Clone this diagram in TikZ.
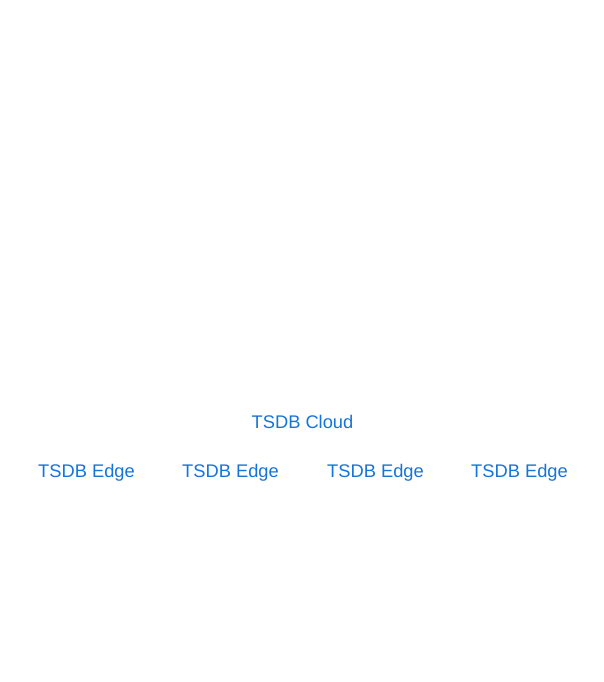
\documentclass[tikz,border=0pt]{standalone}
\usepackage{fontspec}
\setmainfont{Liberation Sans}
\usetikzlibrary{positioning}

\definecolor{tsdbblue}{HTML}{1674D8}

\tikzstyle{tsdb} = [text = tsdbblue, font = \fontsize{18.3}{21}\selectfont, inner sep = 0pt, anchor = base]

\begin{document}
\begin{tikzpicture}[x = 1pt, y = 1pt]

    \useasboundingbox[fill = white] (0,0) rectangle (603,-682);

    \node(cloud)[tsdb] at (302.5,-428) {TSDB Cloud};
    \node(edgea)[tsdb] at (86.5,-477) {TSDB Edge};
    \node(edgeb)[tsdb] at (230.5,-477) {TSDB Edge};
    \node(edgec)[tsdb] at (375.5,-477) {TSDB Edge};
    \node(edged)[tsdb] at (519.5,-477) {TSDB Edge};

\end{tikzpicture}
\end{document}
